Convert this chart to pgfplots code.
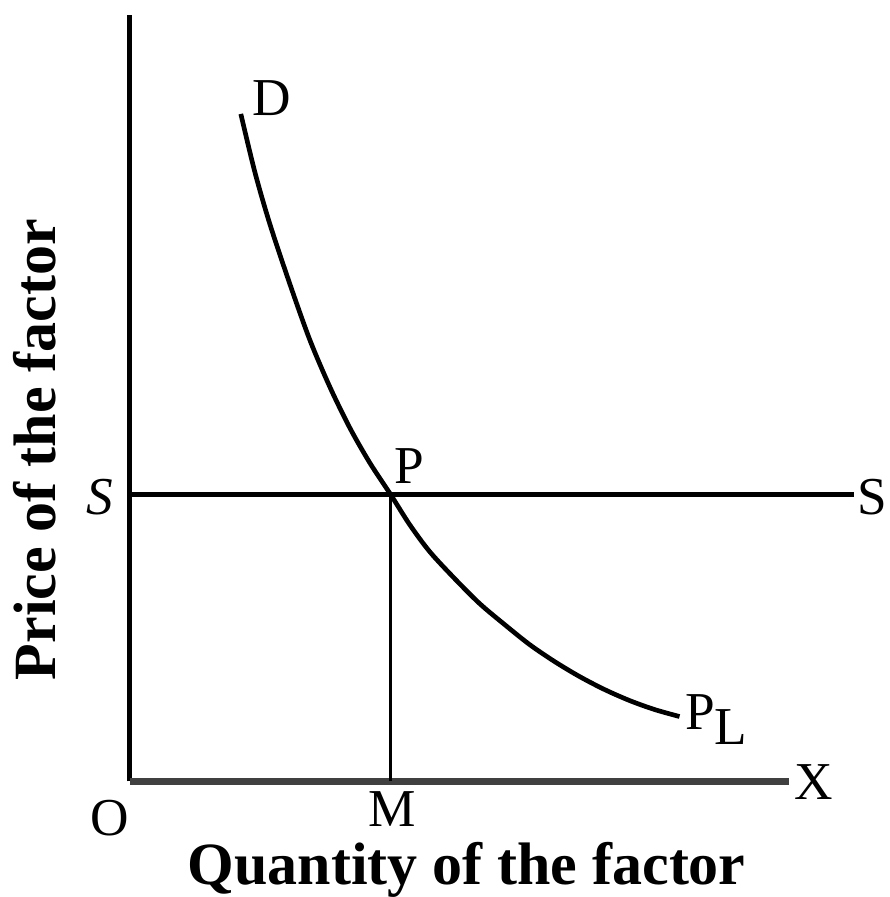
\documentclass[border=0pt]{standalone}
\usepackage{fontspec}
\setmainfont{Liberation Serif}
\usepackage{pgfplots}
\pgfplotsset{compat=1.18}

\begin{document}
\begin{tikzpicture}[lbl/.style={font=\fontsize{16}{19}\selectfont, inner sep=0pt}]
\begin{axis}[
width=267pt, height=269.1pt, scale only axis,
xmin=-130, xmax=760, ymin=-115, ymax=782,
hide axis, clip=false,
]
% invisible frame keeps the page at the reference size
\addplot[draw=none] coordinates {(-130,-115)(760,782)};

% axes
\addplot[line width=1.5pt, black] coordinates {(0,0)(0,767)};
\addplot[line width=2.3pt, black!75] coordinates {(0,0)(660,0)};

% supply line S-S and the drop to M
\addplot[line width=1.5pt, black] coordinates {(0,287)(725,287)};
\addplot[line width=0.9pt, black] coordinates {(261,287)(261,0)};

% demand curve D - P_L
\addplot[line width=1.4pt, black, smooth] coordinates {
(111,668)(125,610)(140,558)(160,498)(180,442)(200,395)(220,354)(240,319)
(261,287)(280,257)(300,230)(325,203)(350,178)(375,157)(400,137)(425,120)
(450,105)(475,92)(500,81)(525,72)(550,65)
};

\node[lbl] at (axis cs:142,684) {D};
\node[lbl] at (axis cs:280,316) {P};
\node[lbl] at (axis cs:-30,285) {\textit{S}};
\node[lbl] at (axis cs:743,285) {S};
\node[lbl] at (axis cs:684,-1) {X};
\node[lbl] at (axis cs:262,-28) {M};
\node[lbl] at (axis cs:-20,-37) {O};
\node[lbl, anchor=west] at (axis cs:555,62) {P\raisebox{-0.6ex}{L}};

\node[font=\fontsize{18}{21}\selectfont\bfseries, inner sep=0pt] at (axis cs:337,-88) {Quantity of the factor};
\node[font=\fontsize{18}{21}\selectfont\bfseries, inner sep=0pt, rotate=90] at (axis cs:-95,332) {Price of the factor};
\end{axis}
\end{tikzpicture}
\end{document}
